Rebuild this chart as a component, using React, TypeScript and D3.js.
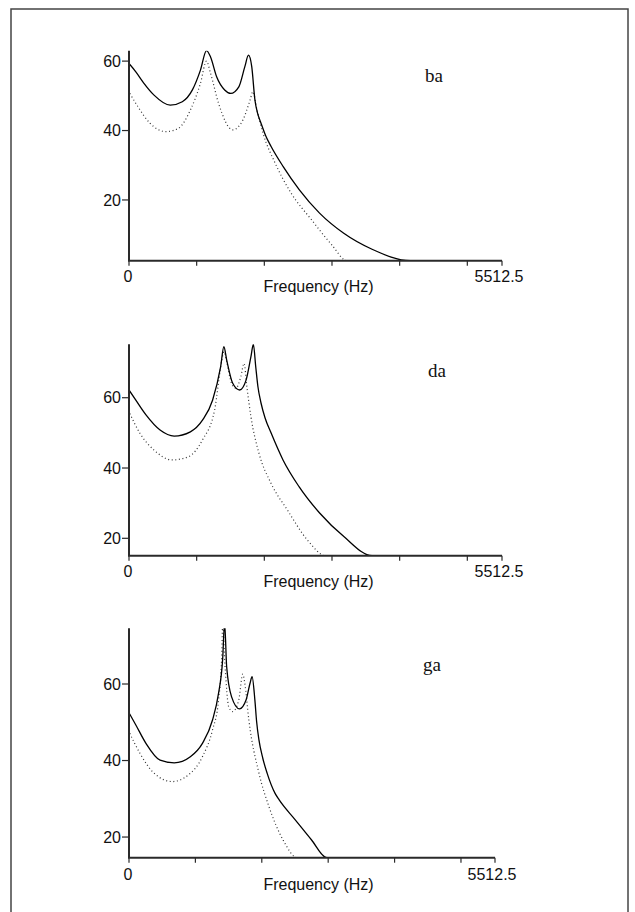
import React from "react";
import * as d3 from "d3";

// ---- Data (Hz, dB) ----
const syllables = ["ba", "da", "ga"];
const xTickValues = [0, 1000, 2000, 3000, 4000, 5000, 5512.5];
const xLabelValues = [0, 5512.5];
const xMax = 5512.5;
const yTickValues = [20, 40, 60];
const yDomains: [number, number][] = [
  [2.5, 63.0],
  [15.05, 75.2],
  [14.6, 74.56],
];

const baSolid: [number, number][] = [
  [0, 59.3], [101, 56.9], [221, 53.6], [370, 50.2], [609, 47.3], [788, 48.3],
  [937, 51.7], [1056, 57.4], [1145, 63.0], [1205, 61.2], [1295, 55.5], [1414, 51.7],
  [1503, 50.7], [1623, 52.6], [1712, 58.4], [1766, 61.7], [1814, 58.4], [1861, 48.8],
  [1900, 45.0], [1951, 42.1], [2020, 38.5], [2100, 35.4], [2279, 29.6], [2518, 22.9],
  [2816, 16.2], [3174, 10.4], [3592, 5.8], [4158, 2.5], [5512.5, 2.5],
];
const baDotted: [number, number][] = [
  [12, 50.7], [131, 46.9], [310, 42.1], [549, 39.7], [728, 40.6], [907, 45.9],
  [1056, 53.6], [1145, 60.0], [1205, 56.5], [1324, 47.8], [1533, 40.2], [1682, 43.0],
  [1790, 48.8], [1831, 51.2], [1891, 45.9], [1981, 39.2], [2160, 30.6], [2398, 21.9],
  [2697, 14.3], [2995, 7.1], [3222, 2.5], [5512.5, 2.5],
];
const daSolid: [number, number][] = [
  [0, 62.2], [101, 59.3], [251, 55.1], [459, 50.8], [668, 49.1], [907, 50.3],
  [1086, 53.6], [1235, 59.3], [1354, 68.8], [1402, 74.5], [1444, 70.7], [1533, 64.1],
  [1635, 62.2], [1730, 65.0], [1802, 71.7], [1838, 75.2], [1873, 68.8], [1905, 63.2],
  [1951, 58.5], [2010, 54.3], [2099, 50.0], [2276, 42.3], [2513, 34.7], [2817, 27.2],
  [3175, 20.5], [3592, 15.05], [5512.5, 15.05],
];
const daDotted: [number, number][] = [
  [12, 55.5], [161, 49.9], [370, 45.1], [638, 42.3], [877, 43.2], [1086, 48.0],
  [1265, 56.5], [1372, 70.7], [1402, 73.1], [1444, 70.2], [1515, 64.1], [1581, 62.7],
  [1653, 66.0], [1700, 69.8], [1742, 63.1], [1802, 54.6], [1921, 44.2], [2100, 35.6],
  [2339, 28.1], [2637, 19.5], [2905, 15.05], [5512.5, 15.05],
];
const gaSolid: [number, number][] = [
  [0, 52.5], [103, 49.3], [255, 44.5], [468, 40.1], [681, 39.4], [924, 41.0],
  [1106, 44.5], [1258, 50.6], [1349, 57.6], [1410, 66.3], [1440, 76.0], [1471, 64.5],
  [1544, 56.7], [1665, 53.5], [1763, 55.8], [1823, 60.2], [1854, 61.9], [1896, 55.8],
  [1922, 50.2], [1957, 45.4], [2015, 40.6], [2080, 36.7], [2200, 31.4], [2262, 29.7],
  [2504, 24.5], [2747, 19.3], [2978, 14.6], [5512.5, 14.6],
];
const gaDotted: [number, number][] = [
  [12, 47.1], [164, 41.9], [377, 36.7], [650, 34.5], [893, 36.2], [1106, 41.0],
  [1258, 48.0], [1349, 55.8], [1398, 68.0], [1410, 75.5], [1447, 64.5], [1501, 54.1],
  [1562, 52.8], [1653, 55.8], [1714, 62.6], [1744, 60.2], [1805, 50.6], [1957, 36.7],
  [2109, 27.9], [2322, 19.2], [2534, 14.6], [5512.5, 14.6],
];
const solidSeries = [baSolid, daSolid, gaSolid];
const dottedSeries = [baDotted, daDotted, gaDotted];

// ---- Layout ----
const W = 635;
const H = 912;
const layout = [
  { left: 129, right: 502, top: 50.7, bottom: 260.7, labelX: 425, labelY: 81.7, tickOff: 21, titleOff: 31 },
  { left: 129, right: 502, top: 344.3, bottom: 555.7, labelX: 428, labelY: 377, tickOff: 21, titleOff: 31 },
  { left: 129, right: 495, top: 628.3, bottom: 857.7, labelX: 423, labelY: 671, tickOff: 22, titleOff: 32 },
];
const sans = "'Liberation Sans', Arial, sans-serif";
const serif = "'Liberation Serif', 'Times New Roman', serif";
const axisColor = "#2a2a2a";

function Panel({ i }: { i: number }) {
  const L = layout[i];
  const x = d3.scaleLinear().domain([0, xMax]).range([L.left, L.right]);
  const y = d3.scaleLinear().domain(yDomains[i]).range([L.bottom, L.top]);
  const floor = yDomains[i][0];
  const line = d3
    .line<[number, number]>()
    .x((d) => x(d[0]))
    .y((d) => y(Math.max(d[1], floor)))
    .curve(d3.curveMonotoneX);
  const clipId = `clip-${i}`;
  return (
    <g>
      <defs>
        <clipPath id={clipId}>
          <rect x={L.left} y={L.top} width={L.right - L.left + 1} height={L.bottom - L.top} />
        </clipPath>
      </defs>
      <g clipPath={`url(#${clipId})`}>
        <path d={line(dottedSeries[i]) || ""} fill="none" stroke="#333" strokeWidth={1.2} strokeDasharray="1 2.6" />
        <path d={line(solidSeries[i]) || ""} fill="none" stroke="#000" strokeWidth={1.3} />
      </g>
      {/* y axis */}
      <line x1={L.left} x2={L.left} y1={L.top} y2={L.bottom} stroke={axisColor} strokeWidth={2} />
      {yTickValues.map((t) => (
        <g key={t}>
          <line x1={L.left - 7} x2={L.left} y1={y(t)} y2={y(t)} stroke={axisColor} strokeWidth={1.2} />
          <text x={L.left - 8} y={y(t)} dy="0.36em" textAnchor="end" fontFamily={sans} fontSize={16} fill="#111">
            {t}
          </text>
        </g>
      ))}
      {/* x axis */}
      <line x1={L.left - 1} x2={L.right} y1={L.bottom} y2={L.bottom} stroke={axisColor} strokeWidth={2} />
      {xTickValues.map((t) => (
        <line key={t} x1={x(t)} x2={x(t)} y1={L.bottom} y2={L.bottom + 5} stroke={axisColor} strokeWidth={1.2} />
      ))}
      {xLabelValues.map((t) => (
        <text key={t} x={x(t) - (t === 0 ? 1 : 3)} y={L.bottom + L.tickOff} textAnchor="middle" fontFamily={sans} fontSize={16} fill="#111">
          {t}
        </text>
      ))}
      <text x={(L.left + 502) / 2 + 3} y={L.bottom + L.titleOff} textAnchor="middle" fontFamily={sans} fontSize={16} fill="#111">
        Frequency (Hz)
      </text>
      <text x={L.labelX} y={L.labelY} fontFamily={serif} fontSize={19} fill="#111">
        {syllables[i]}
      </text>
    </g>
  );
}

export default function App() {
  return (
    <svg
      width={W}
      height={H}
      viewBox={`0 0 ${W} ${H}`}
      style={{ position: "absolute", left: 0, top: 0, background: "#fff" }}
    >
      <rect x={0} y={0} width={W} height={H} fill="#fff" />
      <rect x={11} y={9} width={617} height={930} fill="none" stroke="#444" strokeWidth={1.5} />
      {syllables.map((s, i) => (
        <Panel key={s} i={i} />
      ))}
    </svg>
  );
}
